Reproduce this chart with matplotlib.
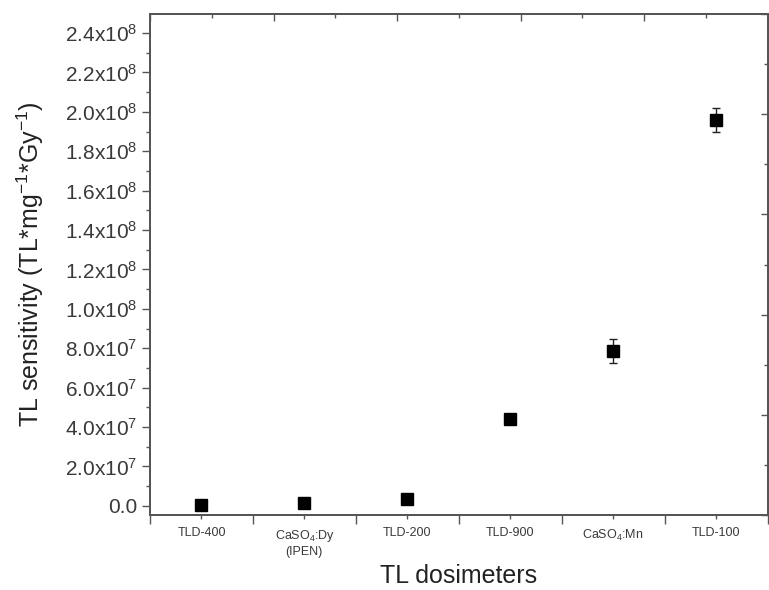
import matplotlib
matplotlib.use('Agg')
import matplotlib.pyplot as plt
from matplotlib.ticker import MultipleLocator, FixedLocator
import numpy as np

plt.rcParams['font.family'] = ['Liberation Sans', 'DejaVu Sans']
plt.rcParams['mathtext.default'] = 'regular'

# data
categories = ['TLD-400', 'CaSO$_4$:Dy\n(IPEN)', 'TLD-200', 'TLD-900', 'CaSO$_4$:Mn', 'TLD-100']
sensitivity = [3.5e5, 1.2e6, 3.2e6, 4.39e7, 7.85e7, 1.96e8]
sens_err = [2e5, 3e5, 5e5, 1.5e6, 6e6, 6e6]

y_ticks = [0, 2e7, 4e7, 6e7, 8e7, 1e8, 1.2e8, 1.4e8, 1.6e8, 1.8e8, 2.0e8, 2.2e8, 2.4e8]
y_tick_labels = ['0.0', '2.0x10$^7$', '4.0x10$^7$', '6.0x10$^7$', '8.0x10$^7$',
                 '1.0x10$^8$', '1.2x10$^8$', '1.4x10$^8$', '1.6x10$^8$', '1.8x10$^8$',
                 '2.0x10$^8$', '2.2x10$^8$', '2.4x10$^8$']

axis_col = '#555555'
text_col = '#3a3a3a'

fig = plt.figure(figsize=(7.69, 5.9), dpi=100)
ax = fig.add_axes([150/769, 1 - 515/590, 617.5/769, 501/590])

x = np.arange(len(categories))
ax.errorbar(x, sensitivity, yerr=sens_err, fmt='s', color='black', markersize=8,
            ecolor='#222222', elinewidth=1, capsize=3, capthick=1)

ax.set_xlim(-0.5, len(categories) - 0.5)
ax.set_ylim(-4.7e6, 2.497e8)

ax.set_yticks(y_ticks)
ax.set_yticklabels(y_tick_labels, fontsize=15, color=text_col)
ax.yaxis.set_minor_locator(MultipleLocator(1e7))

ax.set_xticks(x)
ax.set_xticklabels(categories, fontsize=9, color=text_col, linespacing=1.3)
ax.xaxis.set_minor_locator(FixedLocator(np.arange(-0.5, len(categories), 1.0)))

ax.tick_params(axis='y', which='major', direction='out', length=6, width=1, color=axis_col, pad=3)
ax.tick_params(axis='y', which='minor', direction='out', length=3, width=1, color=axis_col)
ax.tick_params(axis='x', which='major', direction='out', length=3, width=1, color=axis_col, pad=6)
ax.tick_params(axis='x', which='minor', direction='out', length=6.5, width=1, color=axis_col)

for s in ax.spines.values():
    s.set_color(axis_col)
    s.set_linewidth(1.2)

ax.set_ylabel('TL sensitivity (TL*mg$^{-1}$*Gy$^{-1}$)', fontsize=18, color='#222222', labelpad=14)
ax.set_xlabel('TL dosimeters', fontsize=18, color='#222222', labelpad=4)

# unlabelled ticks on the top and right frame
ax_top = ax.twiny()
ax_top.set_xlim(0, 5)
ax_top.xaxis.set_major_locator(MultipleLocator(1))
ax_top.xaxis.set_minor_locator(MultipleLocator(0.5))
ax_top.tick_params(axis='x', which='major', direction='in', length=5, width=1, color=axis_col, labeltop=False)
ax_top.tick_params(axis='x', which='minor', direction='in', length=3, width=1, color=axis_col)

ax_right = ax.twinx()
ax_right.set_ylim(0, 5)
ax_right.yaxis.set_major_locator(MultipleLocator(1))
ax_right.yaxis.set_minor_locator(MultipleLocator(0.5))
ax_right.tick_params(axis='y', which='major', direction='in', length=5, width=1, color=axis_col, labelright=False)
ax_right.tick_params(axis='y', which='minor', direction='in', length=3, width=1, color=axis_col)

for a in (ax_top, ax_right):
    for s in a.spines.values():
        s.set_color(axis_col)
        s.set_linewidth(1.2)

fig.savefig('out.png', dpi=100)
